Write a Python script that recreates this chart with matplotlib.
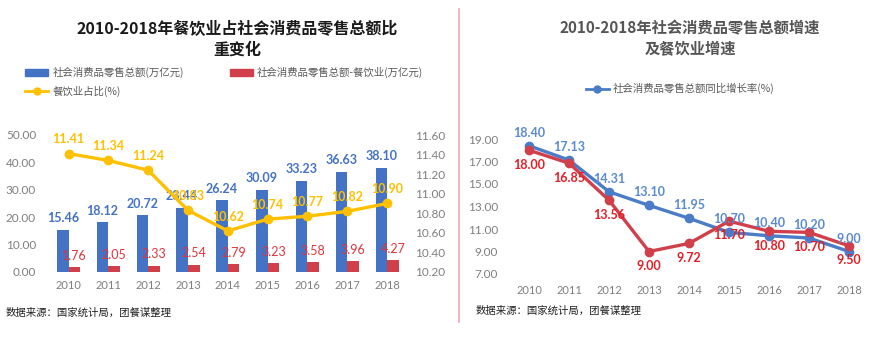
import matplotlib
matplotlib.use("Agg")
import matplotlib.pyplot as plt
from matplotlib.lines import Line2D
from matplotlib.patches import Patch
import numpy as np

plt.rcParams['font.family'] = ['Noto Sans CJK SC', 'DejaVu Sans']

years = ['2010', '2011', '2012', '2013', '2014', '2015', '2016', '2017', '2018']
retail_total = [15.46, 18.12, 20.72, 23.44, 26.24, 30.09, 33.23, 36.63, 38.10]
catering_total = [1.76, 2.05, 2.33, 2.54, 2.79, 3.23, 3.58, 3.96, 4.27]
catering_share = [11.41, 11.34, 11.24, 10.83, 10.62, 10.74, 10.77, 10.82, 10.90]

retail_growth = [18.40, 17.13, 14.31, 13.10, 11.95, 10.70, 10.40, 10.20, 9.00]
catering_growth = [18.00, 16.85, 13.56, 9.00, 9.72, 11.70, 10.80, 10.70, 9.50]

left_ticks = [0, 10, 20, 30, 40, 50]
right_ticks = [10.2, 10.4, 10.6, 10.8, 11.0, 11.2, 11.4, 11.6]
growth_ticks = [7, 9, 11, 13, 15, 17, 19]

BLUE = '#4472C4'
RED = '#D13F4A'
YELLOW = '#FFC000'
GRAY = '#7F7F7F'
LBLUE = '#4A7CC7'
NUM = ['Lato', 'DejaVu Sans']

W, H = 891, 338
fig = plt.figure(figsize=(W / 100, H / 100), dpi=100)

def fx(px):
    return px / W

def fy(py):
    return 1 - py / H

def style_ticks(ax):
    for lab in ax.get_xticklabels() + ax.get_yticklabels():
        lab.set_family(NUM)

# ---------------- Left chart ----------------
x = np.arange(len(years))
axl = fig.add_axes([fx(48.6), fy(272), fx(407 - 48.6), (272 - 135) / H])
bw = 0.29
axl.bar(x - bw / 2, retail_total, width=bw, color=BLUE, zorder=2)
axl.bar(x + bw / 2, catering_total, width=bw, color=RED, zorder=2)
axl.set_xlim(-0.5, len(years) - 0.5)
axl.set_ylim(0, 50)
axl.set_yticks(left_ticks)
axl.set_yticklabels([f'{v:.2f}' for v in left_ticks])
axl.set_xticks(x)
axl.set_xticklabels(years)
for s in axl.spines.values():
    s.set_visible(False)
axl.tick_params(axis='y', length=0, colors=GRAY, labelsize=8.5, pad=9)
axl.tick_params(axis='x', length=0, colors=GRAY, labelsize=8, pad=6)
style_ticks(axl)

for xi, v in zip(x, retail_total):
    axl.annotate(f'{v:.2f}', (xi - bw / 2, v), xytext=(0, 4), textcoords='offset points',
                 ha='center', va='bottom', color=BLUE, fontsize=9, fontweight='bold',
                 family=NUM)
for xi, v in zip(x, catering_total):
    axl.annotate(f'{v:.2f}', (xi + bw / 2, v), xytext=(0, 4), textcoords='offset points',
                 ha='center', va='bottom', color='#E0343C', fontsize=9,
                 family=NUM)

axr = axl.twinx()
axr.plot(x, catering_share, color=YELLOW, lw=2.4, marker='o', markersize=6, zorder=3)
axr.set_ylim(10.2, 11.6)
axr.set_yticks(right_ticks)
axr.set_yticklabels([f'{v:.2f}' for v in right_ticks])
for s in axr.spines.values():
    s.set_visible(False)
axr.tick_params(axis='y', length=0, colors=GRAY, labelsize=8.5, pad=6)
style_ticks(axr)
for xi, v in zip(x, catering_share):
    axr.annotate(f'{v:.2f}', (xi, v), xytext=(0, 6), textcoords='offset points',
                 ha='center', va='bottom', color=YELLOW, fontsize=9, fontweight='bold',
                 family=NUM)

handles = [Patch(color=BLUE), Line2D([], [], color=YELLOW, lw=2, marker='o', markersize=5),
           Patch(color=RED)]
labels = ['社会消费品零售总额(万亿元)', '餐饮业占比(%)', '社会消费品零售总额-餐饮业(万亿元)']
fig.legend(handles, labels, loc='upper left', bbox_to_anchor=(fx(20), fy(62)), ncol=2,
           frameon=False, fontsize=7.5, labelcolor='#595959', handlelength=2.2,
           handleheight=0.6, columnspacing=4.4, labelspacing=0.7, borderpad=0,
           handletextpad=0.4)

fig.text(fx(237), fy(39), '2010-2018年餐饮业占社会消费品零售总额比\n重变化', ha='center',
         va='center', fontsize=11.5, fontweight='bold', color='#1a1a1a', linespacing=1.35)
fig.text(fx(6), fy(313), '数据来源：国家统计局，团餐谋整理', ha='left', va='center',
         fontsize=7.5, color='#222222')

# divider
fig.add_artist(Line2D([fx(459), fx(459)], [fy(9), fy(322)], color='#F2A7B6', lw=1.2))

# ---------------- Right chart ----------------
ax2 = fig.add_axes([fx(509), fy(274), fx(869 - 509), (274 - 139) / H])
ax2.plot(x, retail_growth, color=LBLUE, lw=2.4, marker='o', markersize=6, zorder=2)
ax2.plot(x, catering_growth, color=RED, lw=2.4, marker='o', markersize=6, zorder=3)
ax2.set_xlim(-0.5, len(years) - 0.5)
ax2.set_ylim(7, 19)
ax2.set_yticks(growth_ticks)
ax2.set_yticklabels([f'{v:.2f}' for v in growth_ticks])
ax2.set_xticks(x)
ax2.set_xticklabels(years)
for s in ax2.spines.values():
    s.set_visible(False)
ax2.tick_params(axis='y', length=0, colors=GRAY, labelsize=8.5, pad=8)
ax2.tick_params(axis='x', length=0, colors=GRAY, labelsize=8, pad=8)
style_ticks(ax2)
for xi, v in zip(x, retail_growth):
    ax2.annotate(f'{v:.2f}', (xi, v), xytext=(0, 5), textcoords='offset points',
                 ha='center', va='bottom', color='#5B8BD0', fontsize=9, fontweight='bold',
                 family=NUM)
for xi, v in zip(x, catering_growth):
    ax2.annotate(f'{v:.2f}', (xi, v), xytext=(0, -6), textcoords='offset points',
                 ha='center', va='top', color='#E41E26', fontsize=9, fontweight='bold',
                 family=NUM)

fig.legend([Line2D([], [], color=LBLUE, lw=2, marker='o', markersize=5)],
           ['社会消费品零售总额同比增长率(%)'], loc='upper center',
           bbox_to_anchor=(fx(680), fy(78)), frameon=False, fontsize=7.5,
           labelcolor='#595959', handlelength=2.2, borderpad=0, handletextpad=0.4)

fig.text(fx(690), fy(39), '2010-2018年社会消费品零售总额增速\n及餐饮业增速', ha='center',
         va='center', fontsize=11, fontweight='bold', color='#555555', linespacing=1.35)
fig.text(fx(476), fy(311), '数据来源：国家统计局，团餐谋整理', ha='left', va='center',
         fontsize=7.5, color='#222222')

fig.savefig('out.png', dpi=100, facecolor='white')
